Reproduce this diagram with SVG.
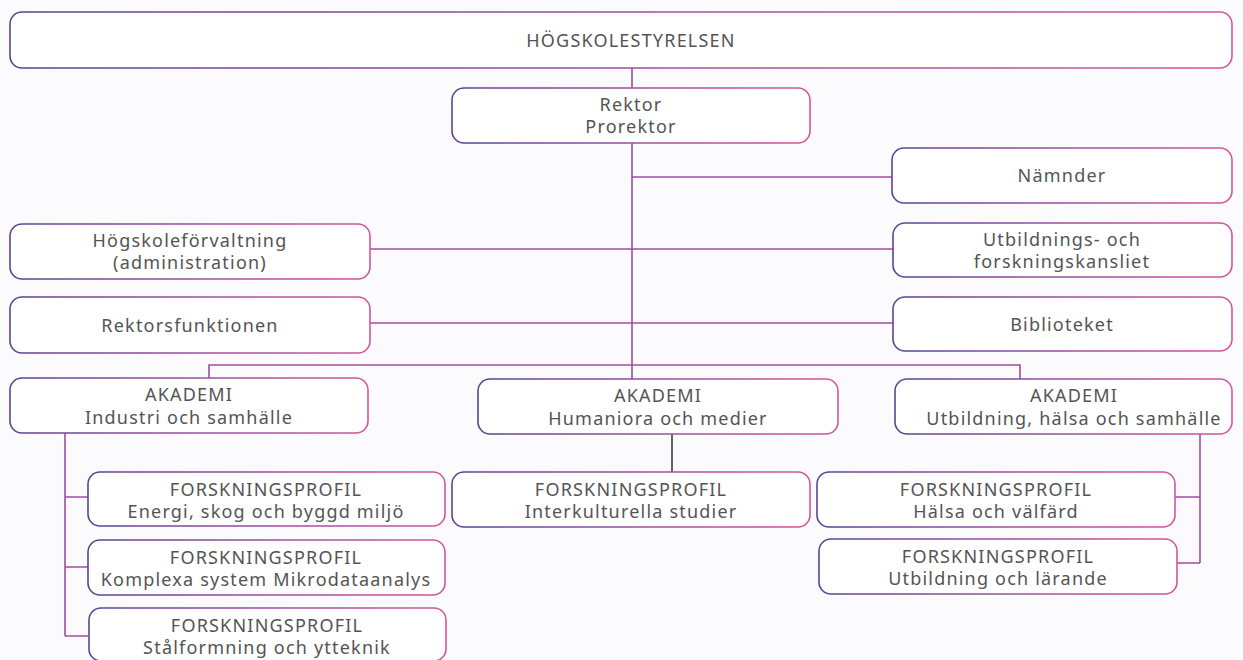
<svg xmlns="http://www.w3.org/2000/svg" width="1243" height="660" viewBox="0 0 1243 660">
<defs>
<linearGradient id="g" x1="0" y1="0" x2="1" y2="0">
<stop offset="0" stop-color="#5b4490"/>
<stop offset="0.5" stop-color="#9a4fa0"/>
<stop offset="1" stop-color="#d4569a"/>
</linearGradient>
<style>
.b{fill:#ffffff;stroke:url(#g);stroke-width:1.6}
.t{font-family:"Noto Sans","Open Sans",sans-serif;font-size:18px;fill:#545454;text-anchor:middle;letter-spacing:1.2px}
.c{fill:none;stroke:#a24d9e;stroke-width:1.6}
.k{fill:none;stroke:#222;stroke-width:1.4}
</style>
</defs>
<rect width="1243" height="660" fill="#fbfafc"/>
<g id="connectors">
<path class="c" d="M632 68V88M632 143V379M632 177H892M370 249H893M370 323H893M209 378V365H1020V379"/>
<path class="c" d="M65 433V636M65 497H88M65 567H88M65 636H88"/>
<path class="k" d="M672 434V472"/>
<path class="c" d="M1200 434V563M1175 497H1200M1177 563H1200"/>
</g>
<g id="n-styrelsen"><rect class="b" x="10" y="12" width="1222" height="56" rx="12"/><text class="t" x="631" y="47">HÖGSKOLESTYRELSEN</text></g>
<g id="n-rektor"><rect class="b" x="452" y="88" width="358" height="55" rx="12"/><text class="t" x="631" y="111">Rektor</text><text class="t" x="631" y="133">Prorektor</text></g>
<g id="n-namnder"><rect class="b" x="892" y="148" width="340" height="55" rx="12"/><text class="t" x="1062" y="182">Nämnder</text></g>
<g id="n-hogskoleforv"><rect class="b" x="10" y="224" width="360" height="55" rx="12"/><text class="t" x="190" y="247">Högskoleförvaltning</text><text class="t" x="190" y="269">(administration)</text></g>
<g id="n-utbildnings"><rect class="b" x="893" y="223" width="339" height="54" rx="12"/><text class="t" x="1062" y="246">Utbildnings- och</text><text class="t" x="1062" y="268">forskningskansliet</text></g>
<g id="n-rektorsf"><rect class="b" x="10" y="297" width="360" height="56" rx="12"/><text class="t" x="190" y="332">Rektorsfunktionen</text></g>
<g id="n-bibl"><rect class="b" x="893" y="297" width="339" height="54" rx="12"/><text class="t" x="1062" y="331">Biblioteket</text></g>
<g id="n-ak1"><rect class="b" x="10" y="378" width="358" height="55" rx="12"/><text class="t" x="189" y="401">AKADEMI</text><text class="t" x="189" y="424">Industri och samhälle</text></g>
<g id="n-ak2"><rect class="b" x="478" y="379" width="360" height="55" rx="12"/><text class="t" x="658" y="402">AKADEMI</text><text class="t" x="658" y="425">Humaniora och medier</text></g>
<g id="n-ak3"><rect class="b" x="895" y="379" width="337" height="55" rx="12"/><text class="t" x="1074" y="402">AKADEMI</text><text class="t" x="1074" y="425">Utbildning, hälsa och samhälle</text></g>
<g id="n-fp1"><rect class="b" x="88" y="472" width="357" height="54" rx="12"/><text class="t" x="266" y="496">FORSKNINGSPROFIL</text><text class="t" x="266" y="518">Energi, skog och byggd miljö</text></g>
<g id="n-fp2"><rect class="b" x="88" y="540" width="357" height="55" rx="12"/><text class="t" x="266" y="564">FORSKNINGSPROFIL</text><text class="t" x="266" y="586">Komplexa system Mikrodataanalys</text></g>
<g id="n-fp3"><rect class="b" x="89" y="608" width="357" height="53" rx="12"/><text class="t" x="267" y="632">FORSKNINGSPROFIL</text><text class="t" x="267" y="654">Stålformning och ytteknik</text></g>
<g id="n-fp4"><rect class="b" x="452" y="472" width="358" height="55" rx="12"/><text class="t" x="631" y="496">FORSKNINGSPROFIL</text><text class="t" x="631" y="518">Interkulturella studier</text></g>
<g id="n-fp5"><rect class="b" x="817" y="472" width="358" height="55" rx="12"/><text class="t" x="996" y="496">FORSKNINGSPROFIL</text><text class="t" x="996" y="518">Hälsa och välfärd</text></g>
<g id="n-fp6"><rect class="b" x="819" y="539" width="358" height="55" rx="12"/><text class="t" x="998" y="563">FORSKNINGSPROFIL</text><text class="t" x="998" y="585">Utbildning och lärande</text></g>
</svg>
